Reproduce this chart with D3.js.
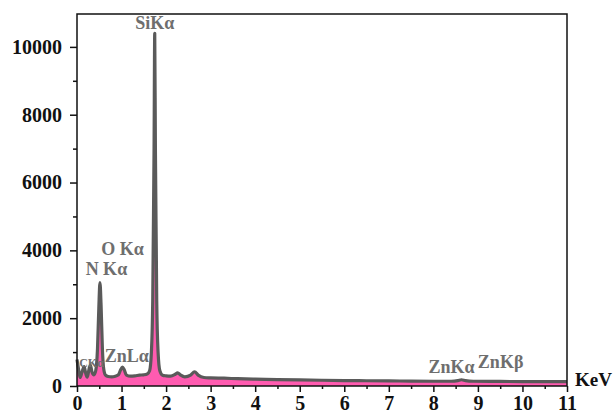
<!DOCTYPE html>
<html><head><meta charset="utf-8">
<script src="https://cdn.jsdelivr.net/npm/d3@7"></script>
<style>body{margin:0;background:#fff}svg{display:block}</style>
</head><body>
<svg id="c" width="615" height="414"></svg>
<script>
const energy = [0.00,0.04,0.07,0.11,0.16,0.20,0.23,0.27,0.30,0.34,0.38,0.42,0.46,0.49,0.515,0.54,0.57,0.60,0.64,0.70,0.78,0.86,0.93,0.98,1.02,1.06,1.11,1.20,1.30,1.40,1.50,1.58,1.63,1.67,1.70,1.71,1.73,1.745,1.76,1.78,1.79,1.82,1.86,1.92,2.00,2.10,2.20,2.26,2.32,2.42,2.55,2.64,2.72,2.85,3.00,3.30,3.60,4.00,4.50,5.00,5.50,6.00,6.50,7.00,7.50,8.00,8.40,8.55,8.63,8.72,8.90,9.50,10.00,10.50,11.00];
const counts = [780,450,250,400,570,350,260,500,620,400,330,450,1100,2300,3050,2400,1100,500,320,280,270,290,330,480,560,480,320,290,300,320,330,360,450,1000,2500,4000,7000,10400,7000,4000,2500,1000,450,320,300,290,340,390,330,270,320,420,320,250,240,230,215,200,190,180,170,160,155,150,145,140,140,160,185,160,140,135,130,130,130];
const xTicks = [0,1,2,3,4,5,6,7,8,9,10,11];
const yTicks = [0,2000,4000,6000,8000,10000];
const peakLabels = ["SiKα","O Kα","N Kα","CKα","ZnLα","ZnKα","ZnKβ"];
const peakEnergy = [1.745,1.02,0.66,0.325,1.12,8.41,9.51];
const peakCount = [10530,3860,3270,570,720,380,530];
const peakSize = [18,18,18,12,18,18,18];

const svg = d3.select("#c");
const L=77,R=567,T=14,B=386;
const x = d3.scaleLinear().domain([0,11]).range([L,R]);
const y = d3.scaleLinear().domain([0,10970]).range([B,T]);
const data = energy.map((e,i)=>({e,c:counts[i]}));

const area = d3.area().x(d=>x(d.e)).y0(B).y1(d=>y(d.c)).curve(d3.curveMonotoneX);
const line = d3.line().x(d=>x(d.e)).y(d=>y(d.c)).curve(d3.curveMonotoneX);
svg.append("path").datum(data).attr("d",area).attr("fill","#ff5bb0");
svg.append("path").datum(data).attr("d",line).attr("fill","none").attr("stroke","#5a5a5a").attr("stroke-width",3.2).attr("stroke-linejoin","round");

// frame
svg.append("rect").attr("x",L).attr("y",T).attr("width",R-L).attr("height",B-T).attr("fill","none").attr("stroke","#111").attr("stroke-width",1.5);

const font = "'Liberation Serif','Times New Roman',serif";
// y axis
const yAx = svg.append("g").attr("transform",`translate(${L},0)`)
  .call(d3.axisLeft(y).tickValues(yTicks).tickSize(7).tickPadding(8).tickFormat(d3.format("d")));
yAx.call(g=>g.select(".domain").remove());
yAx.selectAll("line").attr("stroke","#111").attr("stroke-width",1.5);
yAx.selectAll("text").attr("font-family",font).attr("font-weight","bold").attr("font-size",20).attr("fill","#111");
const yMin = svg.append("g").attr("transform",`translate(${L},0)`)
  .call(d3.axisLeft(y).tickValues([1000,3000,5000,7000,9000]).tickSize(4).tickFormat(""));
yMin.select(".domain").remove();
yMin.selectAll("line").attr("stroke","#111").attr("stroke-width",1.5);

// x axis
const xAx = svg.append("g").attr("transform",`translate(0,${B})`)
  .call(d3.axisBottom(x).tickValues(xTicks).tickSize(6).tickPadding(4).tickFormat(d3.format("d")));
xAx.select(".domain").remove();
xAx.selectAll("line").attr("stroke","#111").attr("stroke-width",1.5);
xAx.selectAll("text").attr("font-family",font).attr("font-weight","bold").attr("font-size",20).attr("fill","#111");
const xMin = svg.append("g").attr("transform",`translate(0,${B})`)
  .call(d3.axisBottom(x).tickValues(d3.range(0.5,11,1)).tickSize(3).tickFormat(""));
xMin.select(".domain").remove();
xMin.selectAll("line").attr("stroke","#111").attr("stroke-width",1.5);

svg.append("text").attr("x",575).attr("y",386).text("KeV")
  .attr("font-family",font).attr("font-weight","bold").attr("font-size",19).attr("fill","#111");

// peak labels
peakLabels.forEach((t,i)=>{
  svg.append("text").attr("x",x(peakEnergy[i])).attr("y",y(peakCount[i]))
    .attr("text-anchor","middle").text(t)
    .attr("font-family",font).attr("font-weight","bold").attr("font-size",peakSize[i]).attr("fill","#6e6e6e");
});
</script>
</body></html>
